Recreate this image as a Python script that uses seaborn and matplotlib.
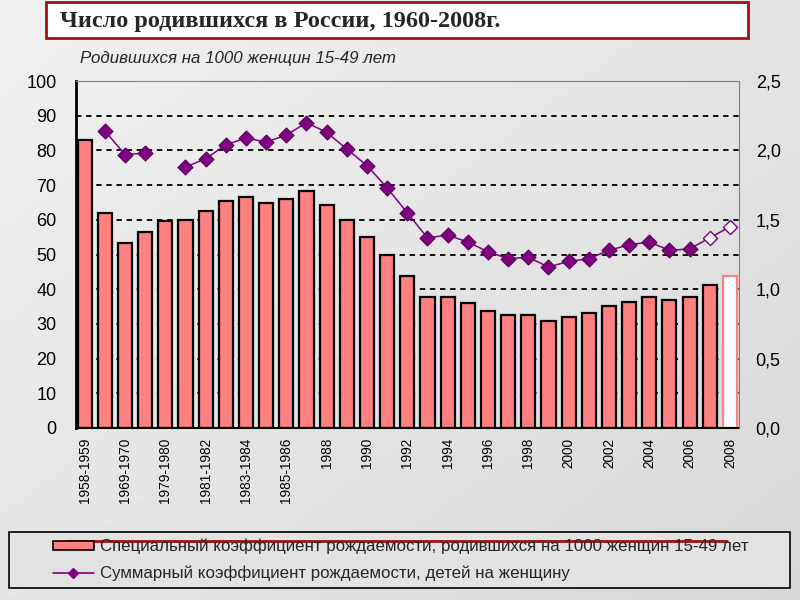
import numpy as np
import pandas as pd
import matplotlib
matplotlib.use("Agg")
import matplotlib.pyplot as plt
import seaborn as sns
from matplotlib.patches import Rectangle, Patch
from matplotlib.lines import Line2D

# ---------------- data ----------------
categories = ["1958-1959", "1964-1965", "1969-1970", "1974-1975", "1979-1980",
              "1980-1981", "1981-1982", "1982-1983", "1983-1984", "1984-1985",
              "1985-1986", "1987", "1988", "1989", "1990", "1991", "1992", "1993",
              "1994", "1995", "1996", "1997", "1998", "1999", "2000", "2001",
              "2002", "2003", "2004", "2005", "2006", "2007", "2008"]
birth_rate = [83.0, 62.0, 53.3, 56.4, 59.7, 60.0, 62.6, 65.5, 66.5, 64.7,
              66.1, 68.2, 64.4, 60.0, 55.1, 49.9, 43.9, 37.8, 37.8, 36.1,
              33.8, 32.7, 32.7, 30.7, 32.1, 33.0, 35.2, 36.4, 37.8, 37.0,
              37.8, 41.3, 43.9]
tfr = [np.nan, 2.14, 1.97, 1.98, np.nan, 1.88, 1.94, 2.04, 2.09, 2.06,
       2.11, 2.20, 2.13, 2.01, 1.89, 1.73, 1.55, 1.37, 1.39, 1.34,
       1.27, 1.22, 1.23, 1.16, 1.20, 1.22, 1.28, 1.32, 1.34, 1.28,
       1.29, 1.37, 1.45]
projected = [False] * 31 + [True, True]
segment = [0, 0, 0, 0, 1] + [1] * 28

bar_label = "Специальный коэффициент рождаемости, родившихся на 1000 женщин 15-49 лет"
line_label = "Суммарный коэффициент рождаемости, детей на женщину"
title = "Число родившихся в России, 1960-2008г."
subtitle = "Родившихся на 1000 женщин 15-49 лет"
left_ticks = [0, 10, 20, 30, 40, 50, 60, 70, 80, 90, 100]
right_ticks = [0.0, 0.5, 1.0, 1.5, 2.0, 2.5]
right_tick_labels = ["0,0", "0,5", "1,0", "1,5", "2,0", "2,5"]

df = pd.DataFrame({"cat": categories, "rate": birth_rate, "tfr": tfr,
                   "proj": projected, "seg": segment})
df["pos"] = np.arange(len(df))

# ---------------- style ----------------
sns.set_theme(style="white")
plt.rcParams["font.family"] = ["Liberation Sans", "DejaVu Sans"]

BAR = "#FF8080"
PURPLE = "#800080"

fig = plt.figure(figsize=(8, 6), dpi=100)

# gray slide background
bg = fig.add_axes([0, 0, 1, 1], zorder=-10)
gx = np.linspace(0, 1, 200)
gy = np.linspace(0, 1, 150)
X, Y = np.meshgrid(gx, gy)
Z = 0.945 - 0.05 * X - 0.05 * Y
bg.imshow(Z, cmap="gray", vmin=0, vmax=1, aspect="auto", extent=[0, 1, 0, 1])
bg.axis("off")

ax = fig.add_axes([76 / 800, 1 - 428 / 600, 663 / 800, 347 / 600])
ax.patch.set_alpha(0)

sns.barplot(data=df, x="cat", y="rate", order=categories, color=BAR,
            saturation=1, width=0.7, edgecolor="black", linewidth=1.6, ax=ax)
last = ax.containers[0][-1]
last.set_facecolor("white")
last.set_edgecolor(BAR)

for y in left_ticks[1:-1]:
    ax.axhline(y, color="black", ls=(0, (3, 2.6)), lw=1.3, zorder=0.5)

ax.set_ylim(0, 100)
ax.set_xlim(-0.43, len(categories) - 0.55)
ax.set_yticks(left_ticks)
ax.set_yticklabels([str(t) for t in left_ticks], fontsize=13)
ax.set_xticks(df["pos"][::2])
ax.set_xticklabels(categories[::2], rotation=90, fontsize=9.8)
ax.tick_params(axis="both", length=0, colors="black")
ax.tick_params(axis="y", pad=14)
ax.tick_params(axis="x", pad=7)
ax.set_xlabel("")
ax.set_ylabel("")
ax.spines["left"].set_color("black")
ax.spines["left"].set_linewidth(2)
ax.spines["bottom"].set_color("black")
ax.spines["bottom"].set_linewidth(1.5)
ax.spines["top"].set_color("#808080")
ax.spines["top"].set_linewidth(0.8)
ax.spines["right"].set_visible(False)

ax2 = ax.twinx()
ax2.patch.set_alpha(0)
line_df = df.dropna(subset=["tfr"])
sns.lineplot(data=line_df, x="pos", y="tfr", units="seg", estimator=None,
             color=PURPLE, lw=1.1, legend=False, ax=ax2)
sns.scatterplot(data=line_df[~line_df["proj"]], x="pos", y="tfr", marker="D",
                s=58, color=PURPLE, edgecolor="#5a005a", linewidth=0.8,
                zorder=5, legend=False, ax=ax2)
sns.scatterplot(data=line_df[line_df["proj"]], x="pos", y="tfr", marker="D",
                s=52, color="white", edgecolor=PURPLE, linewidth=1.0,
                zorder=5, legend=False, ax=ax2)
ax2.set_ylim(0, 2.5)
ax2.set_xlim(ax.get_xlim())
ax2.set_yticks(right_ticks)
ax2.set_yticklabels(right_tick_labels, fontsize=13)
ax2.tick_params(axis="y", length=0, pad=12, colors="black")
ax2.set_ylabel("")
ax2.set_xlabel("")
for s in ["left", "top", "bottom"]:
    ax2.spines[s].set_visible(False)
ax2.spines["right"].set_color("#808080")
ax2.spines["right"].set_linewidth(0.8)

# ---------------- title box ----------------
fig.patches.append(Rectangle((46 / 800, 1 - 38 / 600), 702 / 800, 36 / 600,
                             transform=fig.transFigure, facecolor="white",
                             edgecolor="#a01010", lw=2, zorder=1))
fig.text(60 / 800, 1 - 21 / 600, title, family=["Liberation Serif", "DejaVu Serif"],
         fontweight="bold", fontsize=17.5, va="center", ha="left", zorder=2)
fig.text(80 / 800, 1 - 58 / 600, subtitle, fontstyle="italic", fontsize=12.2,
         va="center", ha="left")

# ---------------- legend ----------------
fig.patches.append(Rectangle((9 / 800, 1 - 588 / 600), 781 / 800, 56 / 600,
                             transform=fig.transFigure, facecolor="#e2e2e2",
                             edgecolor="black", lw=1.2, zorder=1))
fig.lines.append(Line2D([66 / 800, 727 / 800], [1 - 541 / 600, 1 - 541 / 600],
                        transform=fig.transFigure, color="#a01010", lw=2, zorder=2))
handles = [Patch(facecolor=BAR, edgecolor="black", lw=1.2),
           Line2D([], [], color=PURPLE, marker="D", ms=5, lw=1.2)]
leg = fig.legend(handles, [bar_label, line_label], loc="upper left",
                 bbox_to_anchor=(53 / 800, 1 - 539 / 600), frameon=False,
                 fontsize=12.2, handlelength=2.4, handleheight=0.5,
                 labelspacing=0.65, handletextpad=0.35, borderpad=0,
                 borderaxespad=0)
leg.set_zorder(3)

fig.savefig("out.png", dpi=100)
